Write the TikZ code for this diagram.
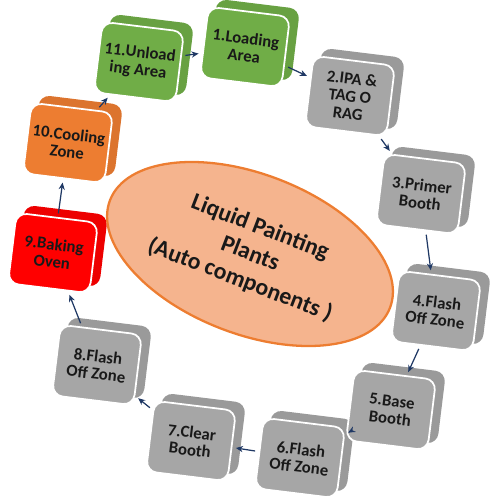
\documentclass[tikz,border=0pt]{standalone}
\usepackage{fontspec}
\setmainfont{Carlito}
\usetikzlibrary{shadows, shapes, positioning, arrows.meta, backgrounds}

\definecolor{loadgreen}{HTML}{70AD47}
\definecolor{boothgray}{HTML}{A6A6A6}
\definecolor{coolorange}{HTML}{ED7D31}
\definecolor{ovenred}{HTML}{FF0000}
\definecolor{hubfill}{HTML}{F5B48E}
\definecolor{flowblue}{HTML}{1F3864}

\tikzset{
    stage/.style={rectangle, rounded corners=6pt, minimum width=1.64cm, minimum height=1.42cm,
        rotate=-7, fill=#1, draw=white, line width=1pt, align=center, inner sep=1pt,
        font=\bfseries\fontsize{9.5}{10}\selectfont, text=black!90},
    stage/.default=boothgray,
    slab/.style={fill=#1!93!black, rounded corners=6pt},
    hub/.style={ellipse, fill=hubfill, draw=coolorange, line width=1.3pt,
        minimum width=6cm, minimum height=3.2cm, inner sep=0pt, align=center,
        font=\bfseries\fontsize{13.5}{16}\selectfont, text=black!90},
    flow/.style={-{Stealth[length=4pt, width=3.5pt]}, flowblue, line width=0.7pt}
}

\begin{document}
\begin{tikzpicture}[x=0.02cm, y=-0.02cm]
    \useasboundingbox (0,0) rectangle (500,500);

    % --- centre: the plant ---
    \node[hub, rotate=-21] (plant) at (250,254) {Liquid Painting\\Plants\\(Auto components )};

    % --- the stages, round the plant ---
    \node[stage=loadgreen] (s1) at (245,47) {1.Loading\\Area};
    \node[stage] (s2) at (350,96) {2.IPA \&\\TAG O\\RAG};
    \node[stage] (s3) at (421,194) {3.Primer\\Booth};
    \node[stage] (s4) at (436,311) {4.Flash\\Off Zone};
    \node[stage] (s5) at (391,410) {5.Base\\Booth};
    \node[stage] (s6) at (300,458) {6.Flash\\Off Zone};
    \node[stage] (s7) at (191,441) {7.Clear\\Booth};
    \node[stage] (s8) at (97,365) {8.Flash\\Off Zone};
    \node[stage=ovenred] (s9) at (53,253) {9.Baking\\Oven};
    \node[stage=coolorange] (s10) at (68,143) {10.Cooling\\Zone};
    \node[stage=loadgreen] (s11) at (139,62) {11.Unload\\ing Area};

    % back slab behind every stage
    \begin{scope}[on background layer]
        \foreach \n/\c in {s1/loadgreen, s2/boothgray, s3/boothgray, s4/boothgray, s5/boothgray, s6/boothgray,
                           s7/boothgray, s8/boothgray, s9/ovenred, s10/coolorange, s11/loadgreen} {
            \fill[slab=\c] ([shift={(9,-7)}]\n.north west) -- ([shift={(9,-7)}]\n.north east)
                -- ([shift={(9,-7)}]\n.south east) -- ([shift={(9,-7)}]\n.south west) -- cycle;
        }
    \end{scope}

    % --- flow from stage to stage ---
    \foreach \a/\b in {s11/s1, s1/s2, s2/s3, s3/s4, s4/s5, s5/s6, s6/s7, s7/s8, s8/s9, s9/s10, s10/s11} {
        \draw[flow, shorten <=2pt, shorten >=2pt] (\a) -- (\b);
    }
\end{tikzpicture}
\end{document}
